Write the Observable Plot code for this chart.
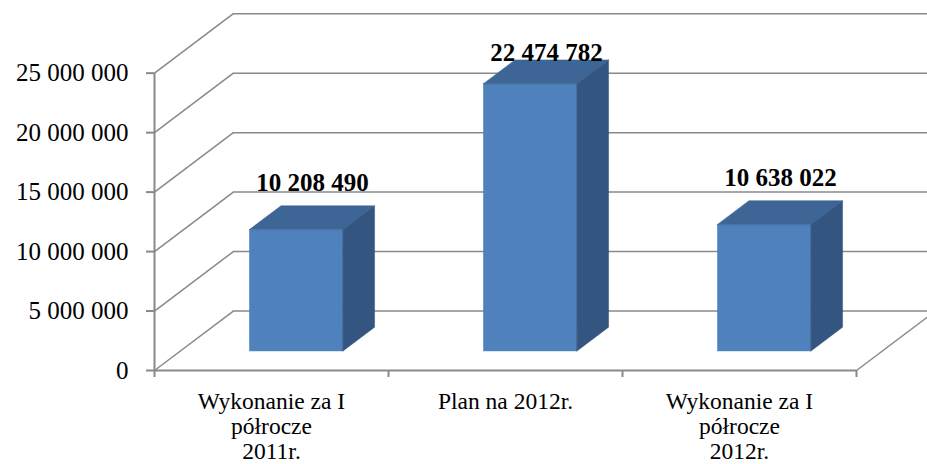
<!DOCTYPE html>
<html><head><meta charset="utf-8">
<script src="https://cdn.jsdelivr.net/npm/d3@7"></script>
<script src="https://cdn.jsdelivr.net/npm/@observablehq/plot@0.6"></script>
<style>
body{margin:0;background:#fff}
#chart svg, #chart svg text {font-family: "Liberation Serif", "Times New Roman", serif !important;}
</style>
</head><body><div id="chart"></div>
<script>
const categories = ["Wykonanie za I\npółrocze\n2011r.", "Plan na 2012r.", "Wykonanie za I\npółrocze\n2012r."];
const values = [10208490, 22474782, 10638022];
const valueLabels = ["10 208 490", "22 474 782", "10 638 022"];
const yTicks = [0, 5000000, 10000000, 15000000, 20000000, 25000000];

// 3D geometry expressed in scale units
const depthX = 0.337;      // depth of the floor along x (category units)
const depthY = 5000000;    // depth of the floor along y (value units)
const barHalf = 0.2;       // half bar width (category units)
const front = 0.32, back = 0.72; // bar position within the depth
const wallTop = 30000000;
const labelCeiling = 24800000; // labels kept inside plot area

const serif = "'Liberation Serif', 'Times New Roman', serif";
const grid = "#898989";
const cFront = "#4F81BD", cTop = "#3D6595", cSide = "#34557F";
const fmt = d => d3.format(",")(d).replace(/,/g, " ");

const bars = values.map((v, i) => ({i, v, label: valueLabels[i]}));
const frontFaces = bars.map(b => ({
  x1: b.i + 0.5 - barHalf + front * depthX, x2: b.i + 0.5 + barHalf + front * depthX,
  y1: front * depthY, y2: b.v + front * depthY}));
const topFaces = bars.flatMap(b => [front, back].map(f => ({
  i: b.i, y: b.v + f * depthY,
  x1: b.i + 0.5 - barHalf + f * depthX, x2: b.i + 0.5 + barHalf + f * depthX})));
const sideFaces = bars.flatMap(b => [front, back].map(f => ({
  i: b.i, x: b.i + 0.5 + barHalf + f * depthX, y1: f * depthY, y2: b.v + f * depthY})));

const n = categories.length;

const chart = Plot.plot({
  width: 927, height: 464,
  marginLeft: 154, marginRight: 71, marginTop: 13.2, marginBottom: 94,
  style: {fontFamily: serif, fontSize: "25px", color: "black", background: "white"},
  x: {domain: [0, n]},
  y: {domain: [0, wallTop]},
  marks: [
    Plot.ruleY(yTicks, {y: t => t + depthY, x1: () => depthX, x2: () => n + depthX, stroke: grid, strokeWidth: 1.5}),
    Plot.link(yTicks, {x1: () => 0, y1: t => t, x2: () => depthX, y2: t => t + depthY, stroke: grid, strokeWidth: 1.5}),
    Plot.link([0], {x1: () => n, y1: () => 0, x2: () => n + depthX, y2: () => depthY, stroke: grid, strokeWidth: 1.5}),
    Plot.ruleY([0], {x1: () => 0, x2: () => n, stroke: grid, strokeWidth: 2}),
    Plot.ruleX([0], {y1: () => 0, y2: () => yTicks[yTicks.length - 1], stroke: grid, strokeWidth: 2}),
    Plot.axisY(yTicks, {tickSize: 8, tickPadding: 18, tickFormat: fmt, stroke: grid, strokeWidth: 2, fill: "black", fontSize: 25, fontFamily: serif}),
    Plot.axisX(d3.range(n + 1), {tickSize: 7, tickFormat: () => "", stroke: grid, strokeWidth: 2}),
    Plot.text(categories, {x: (d, i) => i + 0.5, y: () => 0, dy: 20, lineAnchor: "top", lineHeight: 1.08, fontSize: 23.5, fill: "black", fontFamily: serif}),
    Plot.rect(frontFaces, {x1: "x1", x2: "x2", y1: "y1", y2: "y2", fill: cFront, stroke: cFront, strokeWidth: 0.5}),
    Plot.areaX(topFaces, {y: "y", x1: "x1", x2: "x2", z: "i", fill: cTop, stroke: cTop, strokeWidth: 0.5}),
    Plot.areaY(sideFaces, {x: "x", y1: "y1", y2: "y2", z: "i", fill: cSide, stroke: cSide, strokeWidth: 0.5}),
    Plot.text(bars, {
      x: b => b.i + 0.5 + (front + back) / 2 * depthX,
      y: b => Math.min(b.v + back * depthY, labelCeiling),
      text: "label", dy: -15, lineAnchor: "bottom", fontWeight: "bold", fontSize: 25, fill: "black", fontFamily: serif})
  ]
});
document.getElementById("chart").appendChild(chart);
</script>
</body></html>
